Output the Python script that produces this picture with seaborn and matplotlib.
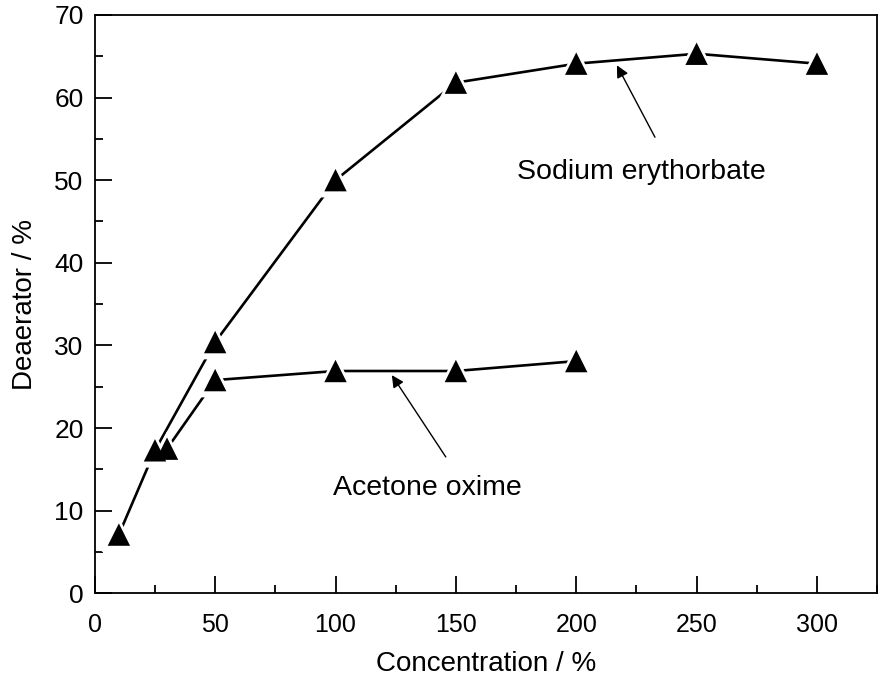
import pandas as pd
import matplotlib
matplotlib.use("Agg")
import matplotlib.pyplot as plt
from matplotlib.ticker import MultipleLocator
import seaborn as sns

# values
sodium_conc = [10, 25, 50, 100, 150, 200, 250, 300]
sodium_rate = [7.1, 17.3, 30.4, 50.0, 61.8, 64.1, 65.3, 64.1]
acetone_conc = [30, 50, 100, 150, 200]
acetone_rate = [17.5, 25.8, 26.9, 26.9, 28.1]

df = pd.concat([
    pd.DataFrame({"conc": sodium_conc, "rate": sodium_rate, "series": "Sodium erythorbate"}),
    pd.DataFrame({"conc": acetone_conc, "rate": acetone_rate, "series": "Acetone oxime"}),
])

sns.set_style("ticks")
plt.rcParams["font.family"] = ["Liberation Sans", "DejaVu Sans"]
plt.rcParams["text.color"] = "black"
plt.rcParams["axes.labelcolor"] = "black"
plt.rcParams["xtick.color"] = "black"
plt.rcParams["ytick.color"] = "black"

fig = plt.figure(figsize=(8.86, 6.78), dpi=100)
ax = fig.add_axes([0.107, 0.125, 0.883, 0.853])

black = {"Sodium erythorbate": "black", "Acetone oxime": "black"}
white = {"Sodium erythorbate": "white", "Acetone oxime": "white"}

sns.lineplot(data=df, x="conc", y="rate", hue="series", palette=black,
             linewidth=1.9, legend=False, ax=ax, zorder=2, sort=False)
# white halo so the lines stop short of the markers
sns.scatterplot(data=df, x="conc", y="rate", hue="series", palette=white,
                marker="^", s=620, linewidth=0, legend=False, ax=ax, zorder=3)
sns.scatterplot(data=df, x="conc", y="rate", hue="series", palette=black,
                marker="^", s=260, linewidth=0, legend=False, ax=ax, zorder=4)

arrow = dict(arrowstyle="-|>", color="black", lw=1, mutation_scale=18,
             shrinkA=0, shrinkB=0)
ax.annotate("", xy=(216.9, 63.9), xytext=(232.7, 55.2), arrowprops=arrow)
ax.annotate("", xy=(123.4, 26.4), xytext=(145.8, 16.5), arrowprops=arrow)
ax.text(227, 51.0, "Sodium erythorbate", ha="center", va="center", fontsize=20.5)
ax.text(138.3, 12.7, "Acetone oxime", ha="center", va="center", fontsize=20.5)

ax.set_xlim(0, 325)
ax.set_ylim(0, 70)
ax.xaxis.set_major_locator(MultipleLocator(50))
ax.xaxis.set_minor_locator(MultipleLocator(25))
ax.yaxis.set_major_locator(MultipleLocator(10))
ax.yaxis.set_minor_locator(MultipleLocator(5))
ax.tick_params(which="both", direction="in", width=1.3,
               top=False, right=False)
ax.tick_params(which="major", length=12)
ax.tick_params(which="minor", length=6)
ax.tick_params(axis="x", labelsize=18, pad=14)
ax.tick_params(axis="y", labelsize=19, pad=8)
for s in ax.spines.values():
    s.set_linewidth(1.3)
    s.set_color("black")

ax.set_xlabel("Concentration / %", fontsize=20, labelpad=10)
ax.set_ylabel("Deaerator / %", fontsize=20, labelpad=12)

fig.savefig("out.png", dpi=100)
